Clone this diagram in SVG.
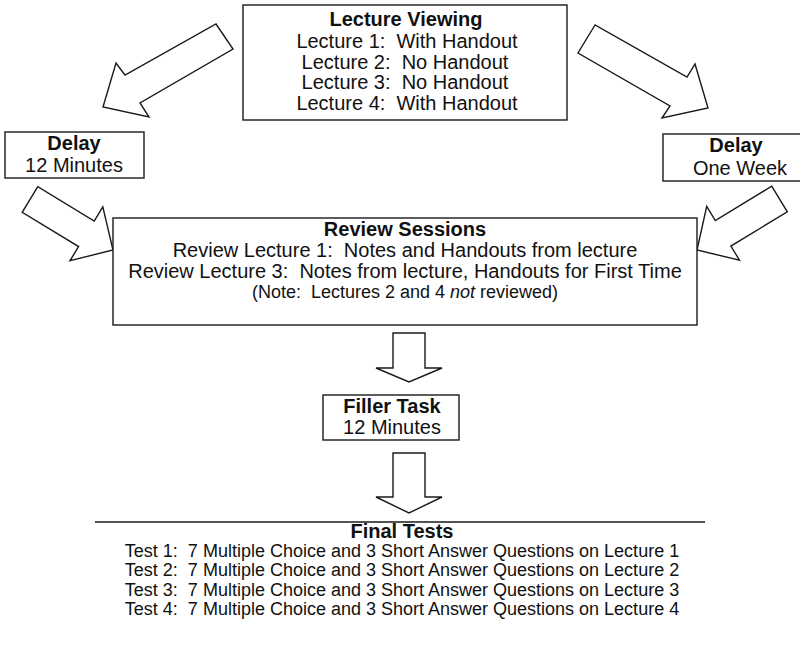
<svg xmlns="http://www.w3.org/2000/svg" width="800" height="645" viewBox="0 0 800 645">
<style>
.box{fill:#fff;stroke:#1a1a1a;stroke-width:1.4}
.arr{fill:#fff;stroke:#1a1a1a;stroke-width:1.4;stroke-linejoin:miter}
text{font-family:"Liberation Sans",Arial,sans-serif;fill:#111;text-anchor:middle;white-space:pre}
.t{font-weight:bold;font-size:20px}
.l{font-size:20px}
.s{font-size:18px}
.n{font-size:18px}
</style>
<rect width="800" height="645" fill="#fff"/>
<g id="connectors">
<polygon class="arr" points="216,24 233,49 140,103 149,117 103,107 116,63 125,75"/>
<polygon class="arr" points="595,25 578,53 670,106 662,118 708,108 695,64 687,77"/>
<polygon class="arr" points="37.8,186.7 22.2,212.3 78.6,246.6 70,260.7 113,250 102.8,206.9 94.2,221"/>
<polygon class="arr" points="771.7,186.2 787.3,211.8 730.9,246.1 739.5,260.2 697,250 706.7,206.4 715.3,220.5"/>
<polygon class="arr" points="393,333 425,333 425,368 442,368 409,382 376,368 393,368"/>
<polygon class="arr" points="393,453 425,453 425,497 442,497 409,513 376,497 393,497"/>
</g>
<g id="lecture-viewing">
<rect class="box" x="243" y="5" width="324" height="115"/>
<text class="t" x="406" y="26">Lecture Viewing</text>
<text class="l" x="407" y="48">Lecture 1:  With Handout</text>
<text class="l" x="405" y="69">Lecture 2:  No Handout</text>
<text class="l" x="405" y="89">Lecture 3:  No Handout</text>
<text class="l" x="407" y="110">Lecture 4:  With Handout</text>
</g>
<g id="delay-left">
<rect class="box" x="5" y="132" width="139" height="46"/>
<text class="t" x="74" y="150">Delay</text>
<text class="l" x="74" y="172">12 Minutes</text>
</g>
<g id="delay-right">
<rect class="box" x="663" y="134" width="160" height="47"/>
<text class="t" x="736" y="152">Delay</text>
<text class="l" x="740" y="175">One Week</text>
</g>
<g id="review-sessions">
<rect class="box" x="113" y="218" width="584" height="107"/>
<text class="t" x="405" y="236">Review Sessions</text>
<text class="l" x="405" y="257">Review Lecture 1:  Notes and Handouts from lecture</text>
<text class="l" x="405" y="278">Review Lecture 3:  Notes from lecture, Handouts for First Time</text>
<text class="n" x="405" y="298">(Note:  Lectures 2 and 4 <tspan font-style="italic">not</tspan> reviewed)</text>
</g>
<g id="filler-task">
<rect class="box" x="323" y="395" width="136" height="45"/>
<text class="t" x="392" y="413">Filler Task</text>
<text class="l" x="392" y="434">12 Minutes</text>
</g>
<g id="final-tests">
<line x1="95" y1="522" x2="705" y2="522" stroke="#1a1a1a" stroke-width="1.4"/>
<text class="t" x="402" y="538">Final Tests</text>
<text class="s" x="402" y="557">Test 1:  7 Multiple Choice and 3 Short Answer Questions on Lecture 1</text>
<text class="s" x="402" y="576">Test 2:  7 Multiple Choice and 3 Short Answer Questions on Lecture 2</text>
<text class="s" x="402" y="596">Test 3:  7 Multiple Choice and 3 Short Answer Questions on Lecture 3</text>
<text class="s" x="402" y="615">Test 4:  7 Multiple Choice and 3 Short Answer Questions on Lecture 4</text>
</g>
</svg>
